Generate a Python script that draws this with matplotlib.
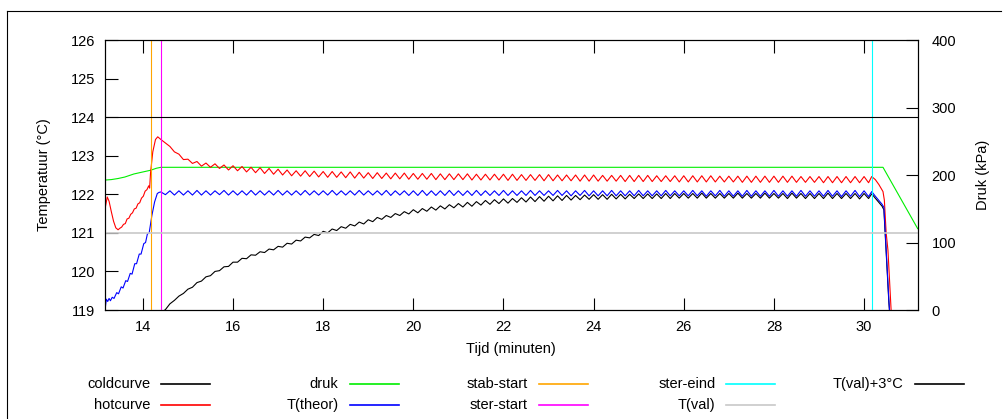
import numpy as np
import matplotlib.pyplot as plt
from matplotlib.lines import Line2D

plt.rcParams['font.family'] = ['Liberation Sans', 'DejaVu Sans']
plt.rcParams['font.size'] = 10.5

# --- data ---
# regelmatige meetpunten tussen 14.4 en 30.1 min (stap 0.1)
grid_t = np.round(np.arange(14.4, 30.15, 0.1), 1)

# hotcurve
hot_pre_t = [13.16, 13.21, 13.25, 13.30, 13.35, 13.40, 13.45, 13.49, 13.53, 13.57,
             13.61, 13.65, 13.69, 13.73, 13.77, 13.81, 13.85, 13.89, 13.93, 13.97,
             14.01, 14.05, 14.09, 14.13, 14.15, 14.17, 14.22, 14.28, 14.33, 14.37]
hot_pre = [121.62, 121.93, 121.82, 121.55, 121.30, 121.13, 121.08, 121.12, 121.15, 121.22,
           121.24, 121.36, 121.38, 121.48, 121.52, 121.62, 121.64, 121.75, 121.78, 121.90,
           121.95, 122.08, 122.12, 122.22, 122.16, 122.55, 123.10, 123.42, 123.49, 123.45]
hot_grid = [
    123.42, 123.33, 123.24, 123.10, 123.04, 122.90,
    122.91, 122.80, 122.85, 122.73, 122.81, 122.70, 122.79, 122.67, 122.76, 122.63,
    122.74, 122.61, 122.72, 122.58, 122.70, 122.56, 122.69, 122.54, 122.67, 122.52,
    122.65, 122.50, 122.63, 122.48, 122.61, 122.47, 122.61, 122.46, 122.60, 122.45,
    122.59, 122.44, 122.59, 122.44, 122.58, 122.43, 122.58, 122.42, 122.57, 122.42,
    122.56, 122.41, 122.56, 122.41, 122.55, 122.40, 122.55, 122.40, 122.55, 122.39,
    122.54, 122.39, 122.54, 122.39, 122.54, 122.38, 122.53, 122.38, 122.53, 122.38,
    122.53, 122.38, 122.53, 122.37, 122.52, 122.37, 122.52, 122.37, 122.52, 122.37,
    122.52, 122.36, 122.52, 122.36, 122.51, 122.36, 122.51, 122.36, 122.51, 122.35,
    122.51, 122.35, 122.50, 122.35, 122.50, 122.35, 122.50, 122.34, 122.50, 122.34,
    122.50, 122.34, 122.49, 122.34, 122.49, 122.34, 122.49, 122.33, 122.49, 122.33,
    122.49, 122.33, 122.49, 122.33, 122.48, 122.33, 122.48, 122.33, 122.48, 122.32,
    122.48, 122.32, 122.48, 122.32, 122.48, 122.32, 122.48, 122.32, 122.47, 122.32,
    122.47, 122.32, 122.47, 122.31, 122.47, 122.31, 122.47, 122.31, 122.47, 122.31,
    122.47, 122.31, 122.47, 122.31, 122.47, 122.31, 122.46, 122.31, 122.46, 122.31,
    122.46, 122.30, 122.46, 122.30, 122.46, 122.30, 122.46, 122.30, 122.46, 122.30,
    122.46, 122.30]
hot_end_t = [30.17, 30.25, 30.33, 30.42, 30.45, 30.49, 30.53, 30.60, 30.64]
hot_end = [122.46, 122.38, 122.25, 122.07, 121.85, 121.00, 120.55, 119.00, 118.30]

# T(theor)
theor_pre_t = [13.16, 13.19, 13.22, 13.25, 13.28, 13.32, 13.36, 13.42, 13.46, 13.52,
               13.56, 13.62, 13.66, 13.72, 13.76, 13.82, 13.86, 13.92, 13.96, 14.02,
               14.06, 14.10, 14.14, 14.20, 14.26, 14.32, 14.36]
theor_pre = [119.00, 119.28, 119.22, 119.30, 119.24, 119.33, 119.30, 119.45, 119.42, 119.60,
             119.57, 119.76, 119.74, 119.95, 119.93, 120.20, 120.20, 120.45, 120.45, 120.72,
             120.75, 120.97, 121.00, 121.45, 121.80, 122.02, 122.05]
theor_grid = [
    122.06, 121.99, 122.09, 121.98, 122.09, 121.98,
    122.09, 121.98, 122.10, 121.98, 122.09, 121.98, 122.09, 121.99, 122.10, 121.98,
    122.09, 121.98, 122.09, 121.98, 122.10, 121.98, 122.09, 121.98, 122.09, 121.98,
    122.10, 121.98, 122.09, 121.98, 122.09, 121.98, 122.10, 121.98, 122.09, 121.98,
    122.09, 121.98, 122.10, 121.98, 122.09, 121.98, 122.09, 121.98, 122.10, 121.98,
    122.09, 121.98, 122.09, 121.98, 122.10, 121.97, 122.09, 121.98, 122.09, 121.97,
    122.09, 121.97, 122.10, 121.97, 122.09, 121.97, 122.09, 121.97, 122.10, 121.97,
    122.09, 121.97, 122.09, 121.97, 122.10, 121.97, 122.09, 121.97, 122.09, 121.97,
    122.10, 121.97, 122.09, 121.97, 122.09, 121.97, 122.10, 121.97, 122.09, 121.97,
    122.09, 121.97, 122.10, 121.97, 122.09, 121.96, 122.09, 121.97, 122.10, 121.96,
    122.09, 121.96, 122.09, 121.96, 122.10, 121.96, 122.09, 121.96, 122.09, 121.96,
    122.10, 121.96, 122.09, 121.96, 122.09, 121.96, 122.10, 121.96, 122.09, 121.96,
    122.09, 121.96, 122.10, 121.96, 122.09, 121.95, 122.09, 121.96, 122.10, 121.95,
    122.09, 121.95, 122.09, 121.95, 122.10, 121.95, 122.09, 121.95, 122.09, 121.95,
    122.10, 121.95, 122.09, 121.95, 122.09, 121.95, 122.10, 121.95, 122.09, 121.95,
    122.09, 121.95, 122.10, 121.95, 122.09, 121.94, 122.09, 121.95, 122.10, 121.94,
    122.09, 121.94]
theor_end_t = [30.17, 30.25, 30.32, 30.40, 30.44, 30.47, 30.50, 30.55, 30.60]
theor_end = [122.07, 121.95, 121.85, 121.74, 121.66, 121.00, 120.30, 119.26, 118.40]

# coldcurve
cold_grid = [
    118.93, 119.01, 119.16, 119.25, 119.36, 119.43,
    119.54, 119.59, 119.71, 119.75, 119.86, 119.89, 120.00, 120.02, 120.12, 120.13,
    120.24, 120.24, 120.34, 120.33, 120.43, 120.42, 120.51, 120.49, 120.58, 120.56,
    120.65, 120.63, 120.73, 120.71, 120.81, 120.79, 120.89, 120.87, 120.96, 120.93,
    121.04, 121.00, 121.10, 121.06, 121.16, 121.12, 121.22, 121.18, 121.28, 121.23,
    121.34, 121.29, 121.40, 121.35, 121.45, 121.40, 121.50, 121.45, 121.55, 121.49,
    121.60, 121.52, 121.63, 121.56, 121.67, 121.59, 121.70, 121.62, 121.73, 121.65,
    121.76, 121.67, 121.79, 121.69, 121.81, 121.72, 121.84, 121.74, 121.86, 121.76,
    121.88, 121.77, 121.89, 121.79, 121.91, 121.80, 121.93, 121.81, 121.94, 121.82,
    121.95, 121.83, 121.96, 121.84, 121.97, 121.85, 121.97, 121.86, 121.98, 121.87,
    121.99, 121.87, 121.99, 121.87, 122.00, 121.88, 122.00, 121.88, 122.00, 121.89,
    122.01, 121.89, 122.01, 121.89, 122.01, 121.89, 122.02, 121.89, 122.02, 121.90,
    122.02, 121.90, 122.02, 121.90, 122.03, 121.90, 122.02, 121.90, 122.02, 121.90,
    122.02, 121.90, 122.03, 121.90, 122.02, 121.90, 122.02, 121.90, 122.03, 121.90,
    122.02, 121.90, 122.02, 121.89, 122.03, 121.90, 122.02, 121.89, 122.02, 121.89,
    122.02, 121.89, 122.03, 121.89, 122.02, 121.89, 122.02, 121.89, 122.02, 121.88,
    122.02, 121.89]
cold_end_t = [30.17, 30.25, 30.32, 30.40, 30.44, 30.47, 30.50, 30.55, 30.60]
cold_end = [122.01, 121.90, 121.80, 121.69, 121.60, 120.95, 120.25, 119.20, 118.40]

# druk (kPa)
druk_t = [13.16, 13.30, 13.45, 13.60, 13.80, 14.00, 14.17, 14.30, 14.40,
          16.0, 20.0, 24.0, 28.0, 30.42, 31.19]
druk = [192.5, 193.2, 194.8, 197.0, 201.5, 204.5, 207.0, 210.0, 211.4,
        211.4, 211.4, 211.4, 211.4, 211.4, 120.5]

stab_start = 14.17
ster_start = 14.41
ster_eind = 30.17
t_val = 121.0
t_val3 = 124.0

# --- curves samenvoegen ---
hot_t = np.concatenate([hot_pre_t, grid_t, hot_end_t])
hot = np.concatenate([hot_pre, hot_grid, hot_end])
theor_t = np.concatenate([theor_pre_t, grid_t, theor_end_t])
theor = np.concatenate([theor_pre, theor_grid, theor_end])
cold_t = np.concatenate([grid_t, cold_end_t])
cold = np.concatenate([cold_grid, cold_end])

W, H = 1006, 419
fig = plt.figure(figsize=(W / 100, H / 100), dpi=100)
ax = fig.add_axes([105 / W, 1 - 310 / H, (917.7 - 105) / W, 270 / H])
ax2 = ax.twinx()
ax.set_zorder(ax2.get_zorder() + 1)
ax.patch.set_visible(False)

lw = 0.8
labels = ['coldcurve', 'hotcurve', 'druk', 'T(theor)', 'stab-start',
          'ster-start', 'ster-eind', 'T(val)', 'T(val)+3°C']
colors = ['black', '#ff0000', '#00ee00', '#0000ff', '#ffa500',
          '#ff00ff', '#00ffff', '#c8c8c8', 'black']

ax2.plot(druk_t, druk, color=colors[2], lw=lw)
ax.plot(cold_t, cold, color=colors[0], lw=lw)
ax.plot(hot_t, hot, color=colors[1], lw=lw)
ax.plot(theor_t, theor, color=colors[3], lw=lw)
ax.axvline(stab_start, color=colors[4], lw=lw)
ax.axvline(ster_start, color=colors[5], lw=lw)
ax.axvline(ster_eind, color=colors[6], lw=lw)
ax.axhline(t_val, color=colors[7], lw=1.2)
ax.axhline(t_val3, color=colors[8], lw=lw)

ax.set_xlim(13.16, 31.19)
ax.set_ylim(119, 126)
ax2.set_ylim(0, 400)
ax.set_xticks(range(14, 31, 2))
ax.set_yticks(range(119, 127))
ax2.set_yticks(range(0, 401, 100))

ax.tick_params(axis='x', direction='in', length=9, width=0.8, top=True, pad=7)
ax.tick_params(axis='y', direction='in', length=9, width=0.8, right=False, pad=7)
ax2.tick_params(axis='y', direction='in', length=9, width=0.8, pad=10)
for a in (ax, ax2):
    for s in a.spines.values():
        s.set_linewidth(0.8)

ax.set_xlabel('Tijd (minuten)', labelpad=6)
ax.set_ylabel('Temperatuur (°C)', labelpad=14)
ax2.set_ylabel('Druk (kPa)', rotation=90, labelpad=14)

# legenda in gnuplot-stijl: tekst rechts uitgelijnd, lijn erachter
col_x = [150.4, 338.5, 527.9, 715.4, 903.5]
row_y = [384, 405]
for i, (lab, col) in enumerate(zip(labels, colors)):
    c, r = divmod(i, 2)
    xr = col_x[c]
    y = 1 - row_y[r] / H
    fig.text(xr / W, y, lab, ha='right', va='center')
    fig.add_artist(Line2D([(xr + 11) / W, (xr + 60) / W], [y, y], color=col, lw=1.2))

# rand van de oorspronkelijke afbeelding
fig.add_artist(Line2D([7 / W, 1001 / W], [1 - 11 / H, 1 - 11 / H], color='black', lw=0.8))
fig.add_artist(Line2D([7 / W, 7 / W], [1 - 11 / H, 0], color='black', lw=0.8))

fig.savefig('out.png', dpi=100)
